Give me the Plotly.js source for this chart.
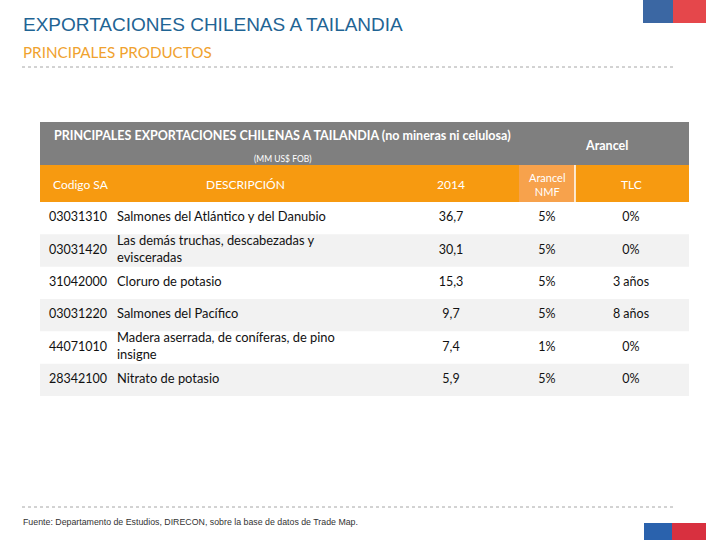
<!DOCTYPE html>
<html><head><meta charset="utf-8">
<script src="https://cdn.plot.ly/plotly-3.0.1.min.js"></script>
<style>html,body{margin:0;padding:0;background:#fff}#chart{width:720px;height:540px}</style>
</head><body><div id="chart"></div>
<script>
// ---- data ----
const codes = ["03031310","03031420","31042000","03031220","44071010","28342100"];
const descriptions = ["Salmones del Atlántico y del Danubio","Las demás truchas, descabezadas y evisceradas","Cloruro de potasio","Salmones del Pacífico","Madera aserrada, de coníferas, de pino insigne","Nitrato de potasio"];
const exports2014 = [36.7,30.1,15.3,9.7,7.4,5.9];
const arancelNMF = [5,5,5,5,1,5];
const arancelTLC = ["0%","0%","3 años","8 años","0%","0%"];
const headerLabels = ["Codigo SA","DESCRIPCIÓN","2014","Arancel<br>NMF","TLC"];
const tableTitle = "PRINCIPALES EXPORTACIONES CHILENAS A TAILANDIA (no mineras ni celulosa)";
const tableUnit = "(MM US$ FOB)";
const groupLabel = "Arancel";
const pageTitle = "EXPORTACIONES CHILENAS A TAILANDIA";
const pageSubtitle = "PRINCIPALES PRODUCTOS";
const sourceNote = "Fuente: Departamento de Estudios, DIRECON, sobre la base de datos de Trade Map.";

// ---- layout geometry (px) ----
const L = 40, R = 689, T = 202, B = 396;
const X = px => (px - L) / (R - L);
const Y = py => (B - py) / (B - T);
const colX = {code: 49, desc: 117, val: 451, nmf: 547, tlc: 631};
const bodyFont = {family: "Lato, 'Noto Sans', sans-serif", size: 12.5, color: "#111"};
const descFont = {family: "Lato, 'Noto Sans', sans-serif", size: 12.9, color: "#111"};

function wrap(s, n) {
  const words = s.split(" "); const lines = []; let cur = "";
  words.forEach(w => {
    if (cur && (cur + " " + w).length > n) { lines.push(cur); cur = w; }
    else cur = cur ? cur + " " + w : w;
  });
  if (cur) lines.push(cur);
  return lines.join("<br>");
}
const fmtNum = v => v.toFixed(1).replace(".", ",");

function textTrace(xpos, texts, pos, font) {
  return {
    type: "scatter", mode: "text", x: codes.map(() => xpos), y: codes,
    text: texts, textposition: pos, textfont: font || bodyFont,
    cliponaxis: false, hoverinfo: "skip", showlegend: false
  };
}

const data = [
  textTrace(colX.code, codes, "middle right"),
  textTrace(colX.desc, descriptions.map(d => wrap(d, 40)), "middle right", descFont),
  textTrace(colX.val, exports2014.map(fmtNum), "middle center"),
  textTrace(colX.nmf, arancelNMF.map(v => v + "%"), "middle center"),
  textTrace(colX.tlc, arancelTLC, "middle center")
];

const shapes = [];
codes.forEach((c, i) => {
  if (i % 2 === 1) shapes.push({type: "rect", xref: "paper", yref: "y", x0: 0, x1: 1, y0: i - 0.5, y1: i + 0.5,
    fillcolor: "#f2f2f2", line: {width: 0}, layer: "below"});
});
const rect = (x0, x1, y0, y1, color) => ({type: "rect", xref: "paper", yref: "paper",
  x0: X(x0), x1: X(x1), y0: Y(y1), y1: Y(y0), fillcolor: color, line: {width: 0}, layer: "below"});
shapes.push(rect(40, 689, 122, 165, "#7f7f7f"));
shapes.push(rect(40, 689, 165, 202, "#f79a10"));
shapes.push(rect(519, 575, 165, 202, "#f7a24c"));
shapes.push({type: "line", xref: "paper", yref: "paper", x0: X(575), x1: X(575), y0: Y(165), y1: Y(202),
  line: {color: "#ffffff", width: 1.5}});
[67, 507].forEach(py => shapes.push({type: "line", xref: "paper", yref: "paper", x0: X(22), x1: X(676),
  y0: Y(py), y1: Y(py), line: {color: "#a6a6a6", width: 1, dash: "dot"}}));
shapes.push(rect(643, 673, 0, 23, "#3b67a3"));
shapes.push(rect(673, 706, 0, 23, "#e5474b"));
shapes.push(rect(644, 672, 523, 540, "#2a62ad"));
shapes.push(rect(672, 706, 523, 540, "#d8303f"));

const ann = (text, px, py, xanchor, font) => ({text, x: X(px), y: Y(py), xref: "paper", yref: "paper",
  xanchor, yanchor: "middle", showarrow: false, font});
const white = (size, extra) => Object.assign({family: "Lato, sans-serif", size, color: "#ffffff"}, extra || {});
const annotations = [
  ann(pageTitle, 21, 25, "left", {family: "'Liberation Sans', Arial, sans-serif", size: 19, color: "#1f6494"}),
  ann(pageSubtitle, 21, 52, "left", {family: "Lato, sans-serif", size: 15.2, color: "#f0a22e"}),
  ann(tableTitle, 52, 135, "left", white(12.5, {weight: "bold"})),
  ann(tableUnit, 283, 159, "center", white(8.5)),
  ann(groupLabel, 606, 145, "center", white(12.5, {weight: "bold"})),
  ann(headerLabels[0], 51, 184, "left", white(12)),
  ann(headerLabels[1], 246, 184, "center", white(12)),
  ann(headerLabels[2], 451, 184, "center", white(12)),
  ann(headerLabels[3], 547, 184, "center", white(11)),
  ann(headerLabels[4], 631, 184, "center", white(12)),
  ann(sourceNote, 21, 522, "left", {family: "'Liberation Sans', Arial, sans-serif", size: 8.8, color: "#333333"})
];

const layout = {
  width: 720, height: 540, autosize: false,
  margin: {l: L, r: 720 - R, t: T, b: 540 - B, pad: 0},
  paper_bgcolor: "#ffffff", plot_bgcolor: "rgba(0,0,0,0)",
  xaxis: {range: [L, R], visible: false, fixedrange: true},
  yaxis: {type: "category", categoryorder: "array", categoryarray: codes, range: [5.5, -0.5],
    visible: false, fixedrange: true},
  shapes, annotations, showlegend: false
};
Plotly.newPlot("chart", data, layout, {displayModeBar: false, staticPlot: true});
</script></body></html>
